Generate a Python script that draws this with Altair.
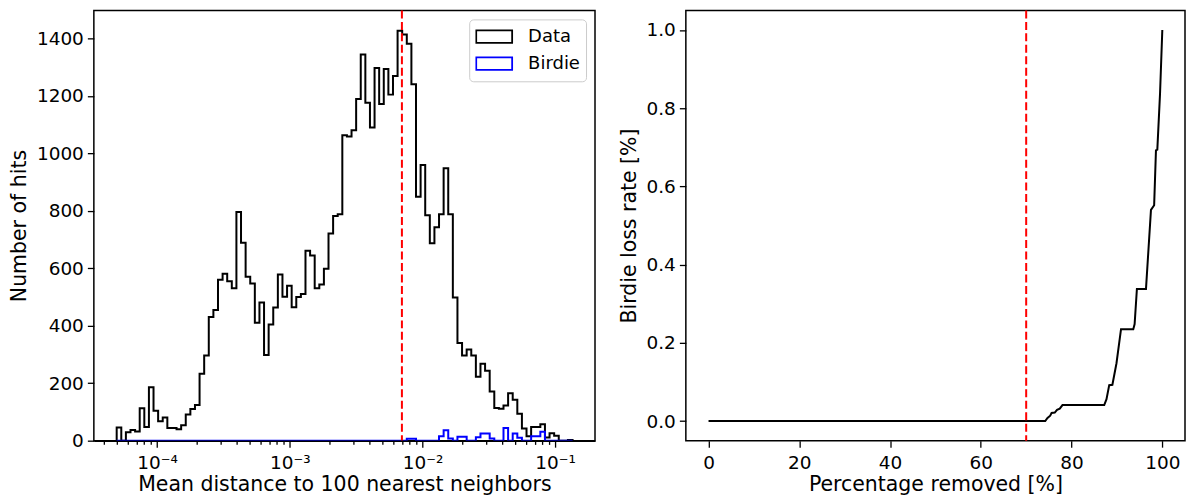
import altair as alt
import numpy as np
import pandas as pd

# ---------------- data ----------------
# histogram counts per logarithmic bin (99 bins)
data_counts = [46, 0, 29, 37, 32, 113, 48, 186, 104, 68,
               81, 44, 44, 40, 54, 91, 110, 124, 233, 296,
               430, 455, 560, 581, 555, 530, 796, 689, 570, 547,
               410, 481, 298, 404, 463, 578, 501, 539, 464, 500,
               510, 661, 644, 530, 543, 598, 721, 782, 788, 1063,
               1058, 1080, 1189, 1344, 1176, 1090, 1297, 1171, 1293, 1204,
               1269, 1426, 1413, 1381, 1240, 849, 959, 784, 687, 743,
               788, 948, 788, 498, 340, 296, 317, 296, 222, 268,
               243, 171, 114, 111, 122, 165, 142, 94, 42, 15,
               48, 48, 57, 11, 26, 17, 0, 0, 2]
birdie_nonzero = {63: 7, 64: 7, 70: 15, 71: 36, 72: 8, 74: 14, 75: 14,
                  78: 12, 79: 25, 80: 25, 81: 8, 84: 44, 86: 25, 87: 10,
                  90: 15, 91: 15, 92: 31}
birdie_counts = [birdie_nonzero.get(i, 0) for i in range(len(data_counts))]
log_lo, log_hi = -4.304, -0.869          # log10 of first / last bin edge
dist_threshold = 0.007

pct_removed = [0, 74.2, 74.7, 75.3, 75.6, 76.3, 76.8, 77.4, 78.0, 87.2, 87.7,
               88.3, 89.0, 89.9, 90.9, 93.6, 93.9, 94.4, 96.4, 97.5, 98.2,
               98.6, 98.9, 99.5, 100]
loss_rate = [0, 0, 0.008, 0.014, 0.021, 0.022, 0.029, 0.032, 0.041, 0.041, 0.056,
             0.092, 0.093, 0.148, 0.235, 0.235, 0.248, 0.338, 0.338, 0.54, 0.552,
             0.692, 0.694, 0.838, 1.0]
pct_threshold = 70

y_ticks_left = [0, 200, 400, 600, 800, 1000, 1200, 1400]
x_ticks_right = [0, 20, 40, 60, 80, 100]
y_ticks_right = [0.0, 0.2, 0.4, 0.6, 0.8, 1.0]
decades = [-5, -4, -3, -2, -1]

# ---------------- build tables ----------------
edges = np.logspace(log_lo, log_hi, len(data_counts) + 1)


def step_rows(counts, name):
    rows = [{"x": edges[0], "y": 0, "series": name, "o": 0}]
    k = 1
    for i, c in enumerate(counts):
        rows.append({"x": edges[i], "y": c, "series": name, "o": k}); k += 1
        rows.append({"x": edges[i + 1], "y": c, "series": name, "o": k}); k += 1
    rows.append({"x": edges[-1], "y": 0, "series": name, "o": k})
    return pd.DataFrame(rows)


df_data = step_rows(data_counts, "Data")
df_birdie = step_rows(birdie_counts, "Birdie")

x_dom = [10 ** -4.476, 10 ** -0.70]
log_ticks = [m * 10.0 ** e for e in decades for m in range(1, 10)
             if x_dom[0] <= m * 10.0 ** e <= x_dom[1]]

FONT = "DejaVu Sans"
TICK_FS = 18.5
TITLE_FS = 20.5
PANEL_H = 431
is_major = "abs(log(datum.value)/LN10 - round(log(datum.value)/LN10)) < 0.01"
e_expr = "round(log(datum.value)/LN10)"
label_expr = (f"{is_major} ? ('10' + ({e_expr} == -4 ? '⁻⁴' : {e_expr} == -3 ? '⁻³' : "
              f"{e_expr} == -2 ? '⁻²' : '⁻¹')) : ''")

color_scale = alt.Scale(domain=["Data", "Birdie"], range=["black", "blue"])
legend = alt.Legend(title=None, orient="top-right", offset=9,
                    symbolType="M-1,-0.35H1V0.35H-1Z", symbolSize=1296,
                    symbolStrokeWidth=1.8, symbolFillColor="white",
                    labelOffset=15, clipHeight=22.5, rowPadding=4, padding=6,
                    strokeColor="#cccccc", cornerRadius=4, fillColor="white",
                    labelFontSize=18, labelFont=FONT, labelColor="black")

x_left = alt.X("x:Q", scale=alt.Scale(type="log", domain=x_dom, nice=False),
               axis=alt.Axis(title="Mean distance to 100 nearest neighbors",
                             values=log_ticks, labelExpr=label_expr,
                             labelOverlap=False, labelFlush=False,
                             tickSize={"condition": {"test": is_major, "value": 6.5}, "value": 3.7},
                             domain=True, domainColor="black", domainWidth=1.5,
                             zindex=1))
y_left = alt.Y("y:Q", scale=alt.Scale(domain=[0, 1497], nice=False, zero=False),
               axis=alt.Axis(title="Number of hits", values=y_ticks_left,
                             format="d", domain=False))

hist_data = alt.Chart(df_data).mark_line(strokeWidth=2).encode(
    x=x_left, y=y_left, order="o:Q",
    color=alt.Color("series:N", scale=color_scale, legend=legend))
hist_birdie = alt.Chart(df_birdie).mark_line(strokeWidth=2).encode(
    x="x:Q", y="y:Q", order="o:Q",
    color=alt.Color("series:N", scale=color_scale, legend=legend))
rule_left = alt.Chart(pd.DataFrame({"x": [dist_threshold]})).mark_rule(
    color="red", strokeDash=[8, 3.5], strokeWidth=2).encode(x="x:Q")

left = alt.layer(hist_data, hist_birdie, rule_left).properties(width=502, height=PANEL_H)

df_loss = pd.DataFrame({"p": pct_removed, "v": loss_rate})
line_right = alt.Chart(df_loss).mark_line(color="black", strokeWidth=2).encode(
    x=alt.X("p:Q", scale=alt.Scale(domain=[-5, 105], nice=False, zero=False),
            axis=alt.Axis(title="Percentage removed [%]", values=x_ticks_right, domain=False)),
    y=alt.Y("v:Q", scale=alt.Scale(domain=[-0.05, 1.05], nice=False, zero=False),
            axis=alt.Axis(title="Birdie loss rate [%]", values=y_ticks_right,
                          format=".1f", domain=False)))
rule_right = alt.Chart(pd.DataFrame({"p": [pct_threshold]})).mark_rule(
    color="red", strokeDash=[8, 3.5], strokeWidth=2).encode(x="p:Q")

right = alt.layer(line_right, rule_right).properties(width=500, height=PANEL_H)

chart = alt.hconcat(left, right, spacing=22, padding=0).resolve_scale(
    color="independent"
).resolve_legend(
    color="independent"
).configure(
    font=FONT
).configure_view(
    stroke="black", strokeWidth=1.5
).configure_axis(
    grid=False, labelFont=FONT, labelFontSize=TICK_FS, labelColor="black",
    titleFont=FONT, titleFontSize=TITLE_FS, titleFontWeight="normal", titleColor="black",
    tickColor="black", tickWidth=1.3, tickSize=6.5, labelPadding=4, titlePadding=7
).configure_axisX(
    labelPadding=6, titlePadding=3
).configure_legend(
    labelFont=FONT
)

chart.save("out.html", embed_options={"renderer": "svg", "actions": False})
